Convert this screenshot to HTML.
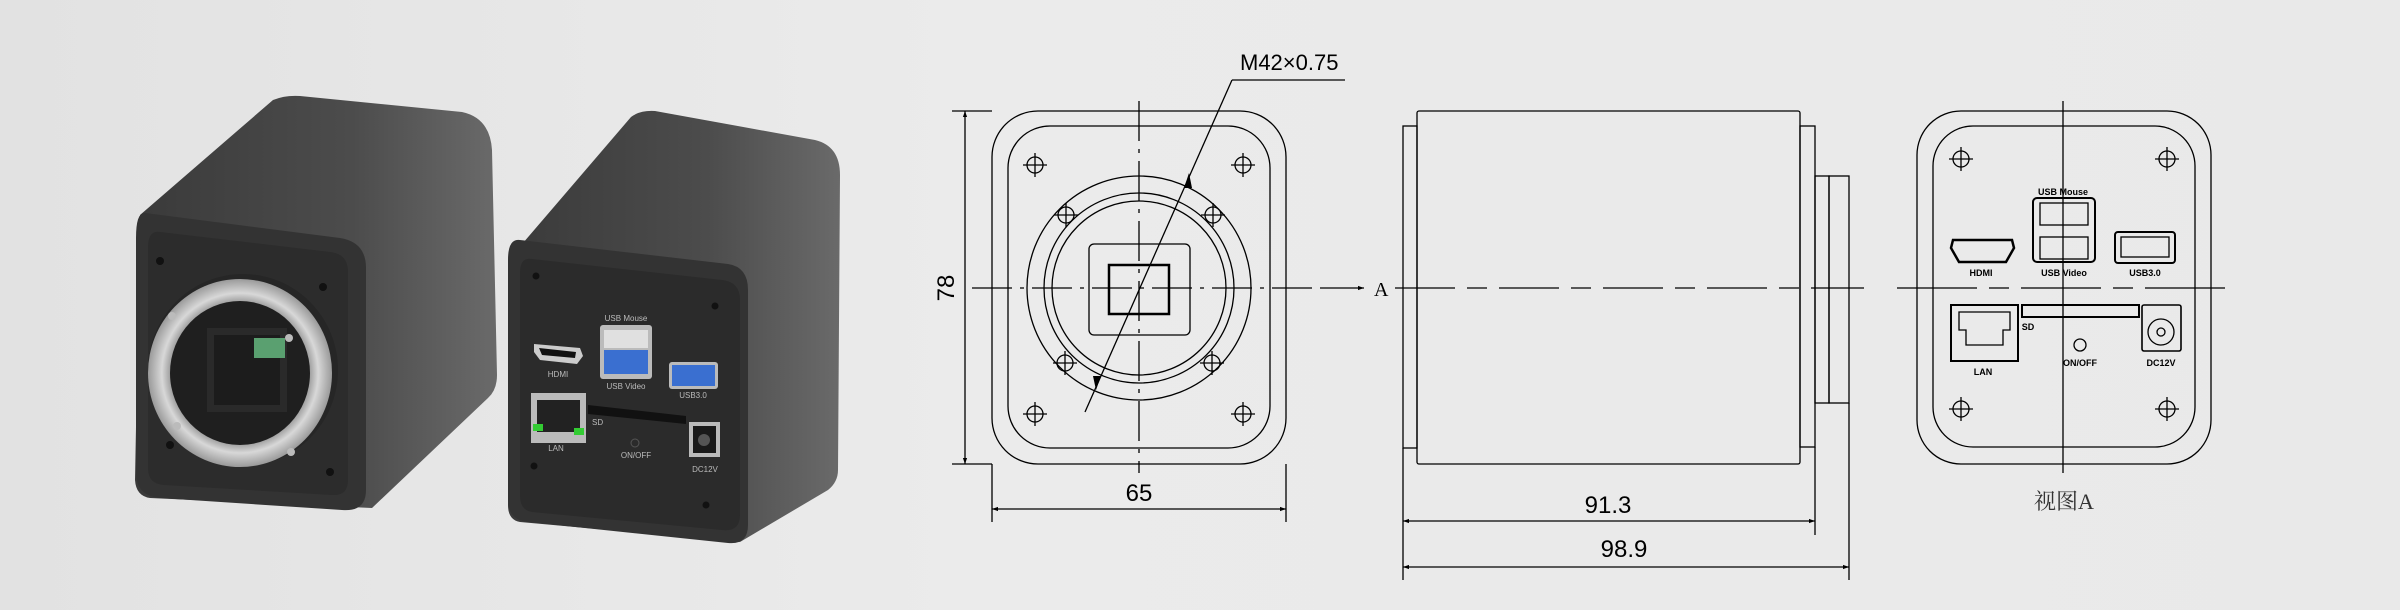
<!DOCTYPE html>
<html><head><meta charset="utf-8"><style>
html,body{margin:0;padding:0;background:#e9e9e9;}
svg{display:block;}
text{font-family:"Liberation Sans","Noto Sans CJK SC",sans-serif;}
</style></head><body>
<svg width="2400" height="610" viewBox="0 0 2400 610" xmlns="http://www.w3.org/2000/svg">
<defs>
<linearGradient id="bg" x1="0" x2="1" y1="0" y2="0"><stop offset="0" stop-color="#e2e2e2"/><stop offset="0.4" stop-color="#ebebeb"/><stop offset="1" stop-color="#e9e9e9"/></linearGradient>
<linearGradient id="side" x1="0" x2="1" y1="0" y2="0"><stop offset="0" stop-color="#3a3a3a"/><stop offset="0.6" stop-color="#4c4c4c"/><stop offset="1" stop-color="#6a6a6a"/></linearGradient>
<radialGradient id="ring" cx="0.5" cy="0.5" r="0.5"><stop offset="0.72" stop-color="#888"/><stop offset="0.85" stop-color="#d8d8d8"/><stop offset="1" stop-color="#9a9a9a"/></radialGradient>
<marker id="ar" viewBox="0 0 10 10" refX="10" refY="5" markerWidth="14" markerHeight="6" orient="auto-start-reverse" markerUnits="userSpaceOnUse"><path d="M0,1.5 L10,5 L0,8.5 z" fill="#000"/></marker>
<g id="h1" fill="none" stroke="#000" stroke-width="1.3"><circle cx="0" cy="0" r="8"/><line x1="-12" y1="0" x2="12" y2="0"/><line x1="0" y1="-12" x2="0" y2="12"/></g>
</defs>
<rect width="2400" height="610" fill="url(#bg)"/>

<!-- Camera 1 -->
<path d="M140,215 L273,100 Q285,95 300,96 L462,112 Q490,118 492,150 L497,375 Q497,390 488,398 L372,508 L150,498 Q136,496 135,480 Z" fill="url(#side)"/>
<path d="M145,213 L340,238 Q366,242 366,268 L366,490 Q366,512 342,510 L160,498 Q136,496 136,472 L136,238 Q136,212 145,213 Z" fill="#333"/>
<path d="M160,232 L330,252 Q348,254 348,272 L348,480 Q348,496 332,495 L164,485 Q148,484 148,468 L148,248 Q148,230 160,232 Z" fill="#2c2c2c"/>
<ellipse cx="243" cy="370" rx="95" ry="96" fill="#262626"/>
<ellipse cx="240" cy="373" rx="92" ry="94" fill="url(#ring)"/>
<ellipse cx="240" cy="373" rx="70" ry="72" fill="#1f1f1f"/>
<rect x="207" y="328" width="80" height="84" fill="#2a2a2a"/>
<rect x="214" y="335" width="66" height="70" fill="#1c1c1c"/>
<rect x="254" y="338" width="31" height="20" fill="#5aa070"/>
<g fill="#111"><circle cx="160" cy="261" r="4"/><circle cx="323" cy="287" r="4"/><circle cx="170" cy="445" r="4"/><circle cx="330" cy="472" r="4"/></g>
<g fill="#bbb"><circle cx="172" cy="316" r="4"/><circle cx="289" cy="338" r="4"/><circle cx="177" cy="426" r="4"/><circle cx="291" cy="452" r="4"/></g>

<!-- Camera 2 -->
<path d="M511,257 L631,117 Q640,110 655,111 L815,140 Q840,146 840,175 L838,470 Q838,482 828,490 L740,542 L520,522 Q508,520 508,505 Z" fill="url(#side)"/>
<path d="M520,240 L728,264 Q748,267 748,290 L748,525 Q748,545 728,543 L528,522 Q508,520 508,500 L508,260 Q508,238 520,240 Z" fill="#333"/>
<path d="M532,259 L722,280 Q740,282 740,300 L740,515 Q740,532 722,530 L532,512 Q520,510 520,496 L520,273 Q520,257 532,259 Z" fill="#2b2b2b"/>
<g fill="#111"><circle cx="536" cy="276" r="3.5"/><circle cx="715" cy="306" r="3.5"/><circle cx="534" cy="466" r="3.5"/><circle cx="706" cy="505" r="3.5"/></g>
<path d="M534,344 L580,348 L583,356 L577,364 L540,360 L534,352 Z" fill="#ccc"/><path d="M539,348 L576,352 L575,358 L542,355 Z" fill="#111"/>
<text x="558" y="377" font-size="8" fill="#bbb" text-anchor="middle">HDMI</text>
<rect x="600" y="325" width="52" height="54" rx="3" fill="#bbb"/>
<rect x="604" y="330" width="44" height="18" fill="#e0e0e0"/><rect x="604" y="350" width="44" height="24" fill="#3a6fd0"/>
<text x="626" y="321" font-size="8" fill="#bbb" text-anchor="middle">USB Mouse</text>
<text x="626" y="389" font-size="8" fill="#bbb" text-anchor="middle">USB Video</text>
<rect x="669" y="362" width="49" height="27" rx="3" fill="#bbb"/><rect x="672" y="365" width="43" height="21" fill="#3a6fd0"/>
<text x="693" y="398" font-size="8" fill="#bbb" text-anchor="middle">USB3.0</text>
<rect x="531" y="393" width="55" height="50" fill="#bbb"/><rect x="537" y="400" width="43" height="32" fill="#222"/>
<rect x="533" y="424" width="10" height="7" fill="#3c3"/><rect x="574" y="428" width="10" height="7" fill="#3c3"/>
<text x="556" y="451" font-size="8" fill="#bbb" text-anchor="middle">LAN</text>
<path d="M588,405 L686,416 L686,424 L588,414 Z" fill="#111"/>
<text x="592" y="425" font-size="8" fill="#bbb">SD</text>
<circle cx="635" cy="443" r="4" fill="none" stroke="#555"/>
<text x="636" y="458" font-size="8" fill="#bbb" text-anchor="middle">ON/OFF</text>
<rect x="689" y="422" width="31" height="35" fill="#bbb"/><rect x="693" y="426" width="23" height="27" fill="#1a1a1a"/><circle cx="704" cy="440" r="6" fill="#555"/>
<text x="705" y="472" font-size="8" fill="#bbb" text-anchor="middle">DC12V</text>

<!-- Front view drawing -->
<g fill="none" stroke="#000" stroke-width="1.3">
<rect x="992" y="111" width="294" height="353" rx="46"/>
<rect x="1008" y="126" width="262" height="322" rx="42"/>
<circle cx="1139" cy="288" r="112"/>
<circle cx="1139" cy="288" r="95"/>
<circle cx="1139" cy="288" r="87"/>
<rect x="1089" y="244" width="101" height="91" rx="5"/>
<rect x="1109" y="265" width="60" height="49" stroke-width="2.5"/>
<use href="#h1" x="1035" y="165"/><use href="#h1" x="1243" y="165"/><use href="#h1" x="1035" y="414"/><use href="#h1" x="1243" y="414"/>
<use href="#h1" x="1066" y="215"/><use href="#h1" x="1213" y="215"/><use href="#h1" x="1065" y="363"/><use href="#h1" x="1212" y="363"/>
<line x1="1139" y1="101" x2="1139" y2="473" stroke-dasharray="40,8,4,8"/>
<line x1="972" y1="288" x2="1320" y2="288" stroke-dasharray="40,8,4,8"/>
<line x1="1320" y1="288" x2="1364" y2="288" marker-end="url(#ar)"/>
<line x1="1085" y1="412" x2="1232" y2="80"/>
<line x1="1232" y1="80" x2="1345" y2="80"/>
<line x1="952" y1="111" x2="992" y2="111"/><line x1="952" y1="464" x2="992" y2="464"/>
<line x1="965" y1="111" x2="965" y2="464" marker-start="url(#ar)" marker-end="url(#ar)"/>
<line x1="992" y1="464" x2="992" y2="522"/><line x1="1286" y1="464" x2="1286" y2="522"/>
<line x1="992" y1="509" x2="1286" y2="509" marker-start="url(#ar)" marker-end="url(#ar)"/>
</g>
<path d="M1184,188 L1189,173 L1192,188 Z" fill="#000"/>
<path d="M1101,376 L1096,390 L1093,376 Z" fill="#000"/>
<text x="1240" y="70" font-size="22">M42×0.75</text>
<text x="1374" y="296" font-size="20" style="font-family:'Liberation Serif',serif">A</text>
<text x="0" y="0" font-size="24" transform="translate(954,288) rotate(-90)" text-anchor="middle">78</text>
<text x="1139" y="501" font-size="24" text-anchor="middle">65</text>

<!-- Side view -->
<g fill="none" stroke="#000" stroke-width="1.3">
<rect x="1417" y="111" width="383" height="353" rx="2"/>
<rect x="1403" y="126" width="14" height="322"/>
<rect x="1800" y="126" width="15" height="321"/>
<rect x="1815" y="176" width="14" height="227"/>
<rect x="1829" y="176" width="20" height="227"/>
<line x1="1395" y1="288" x2="1864" y2="288" stroke-dasharray="60,12,20,12"/>
<line x1="1897" y1="288" x2="2230" y2="288" stroke-dasharray="80,12,20,12"/>
<line x1="1403" y1="448" x2="1403" y2="580"/>
<line x1="1815" y1="447" x2="1815" y2="535"/>
<line x1="1849" y1="403" x2="1849" y2="580"/>
<line x1="1403" y1="521" x2="1815" y2="521" marker-start="url(#ar)" marker-end="url(#ar)"/>
<line x1="1403" y1="567" x2="1849" y2="567" marker-start="url(#ar)" marker-end="url(#ar)"/>
</g>
<text x="1608" y="513" font-size="24" text-anchor="middle">91.3</text>
<text x="1624" y="557" font-size="24" text-anchor="middle">98.9</text>

<!-- View A -->
<g fill="none" stroke="#000" stroke-width="1.3">
<rect x="1917" y="111" width="294" height="353" rx="44"/>
<rect x="1933" y="126" width="262" height="321" rx="40"/>
<line x1="2063" y1="101" x2="2063" y2="473"/>
<use href="#h1" x="1961" y="159"/><use href="#h1" x="2167" y="159"/><use href="#h1" x="1961" y="409"/><use href="#h1" x="2167" y="409"/>
<path d="M1953,240 L2012,240 L2014,248 L2006,262 L1959,262 L1951,248 Z" stroke-width="2.5"/>
<rect x="2033" y="198" width="62" height="64" rx="4" stroke-width="2"/>
<rect x="2040" y="203" width="48" height="22"/><rect x="2040" y="237" width="48" height="22"/>
<rect x="2115" y="232" width="60" height="31" rx="3" stroke-width="2"/><rect x="2121" y="237" width="48" height="20"/>
<rect x="1951" y="305" width="67" height="56" stroke-width="2"/>
<path d="M1959,312 L2010,312 L2010,330 L2003,330 L2003,345 L1966,345 L1966,330 L1959,330 Z"/>
<rect x="2022" y="305" width="117" height="12" stroke-width="2"/>
<circle cx="2080" cy="345" r="6"/>
<rect x="2142" y="305" width="39" height="46" rx="2" stroke-width="1.6"/>
<circle cx="2161" cy="332" r="13"/><circle cx="2161" cy="332" r="4"/>
</g>
<g font-size="9" font-weight="bold" text-anchor="middle">
<text x="2063" y="195">USB Mouse</text>
<text x="1981" y="276">HDMI</text>
<text x="2064" y="276">USB Video</text>
<text x="2145" y="276">USB3.0</text>
<text x="1983" y="375">LAN</text>
<text x="2028" y="330">SD</text>
<text x="2080" y="366">ON/OFF</text>
<text x="2161" y="366">DC12V</text>
</g>
<text x="2064" y="509" font-size="22" text-anchor="middle" fill="#333" style="font-family:'Liberation Serif','Noto Serif CJK SC',serif">视图A</text>
</svg>
</body></html>
